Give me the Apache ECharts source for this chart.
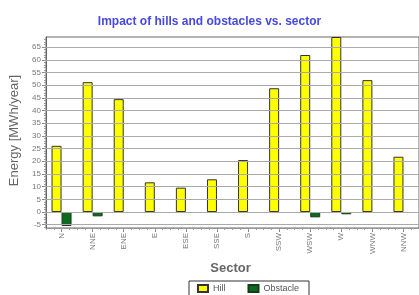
<!DOCTYPE html>
<html>
<head>
<meta charset="utf-8">
<script src="https://cdn.jsdelivr.net/npm/echarts@6/dist/echarts.min.js"></script>
<style>
  html, body { margin: 0; padding: 0; background: #fff; }
  #chart { width: 419px; height: 295px; }
</style>
</head>
<body>
<div id="chart"></div>
<script>
// Sectors and energy impact values
const sectors = ["N", "NNE", "ENE", "E", "ESE", "SSE", "S", "SSW", "WSW", "W", "WNW", "NNW"];
const hillValues = [26.1, 51.2, 44.5, 11.7, 9.6, 12.9, 20.5, 48.8, 61.9, 69, 52, 21.8];
// null = no visible obstacle bar
const obstacleValues = [-5.5, -1.7, null, null, null, null, null, null, -2.1, -0.9, null, null];
const yLabelValues = [-5, 0, 5, 10, 15, 20, 25, 30, 35, 40, 45, 50, 55, 60, 65];

const yMin = -6.3;
const yMax = 69;

// small ticks every unit on the energy axis
const yMinorTicks = [];
for (let v = -6; v <= 68; v++) {
    yMinorTicks.push(v);
}

const chartDom = document.getElementById('chart');
const myChart = echarts.init(chartDom, null, { renderer: 'canvas' });

const option = {
    animation: false,
    backgroundColor: '#fff',
    title: {
        text: 'Impact of hills and obstacles vs. sector',
        left: 'center',
        top: 11,
        textStyle: {
            color: '#4848e0',
            fontSize: 12,
            fontWeight: 'bold',
            fontFamily: 'Liberation Sans'
        }
    },
    legend: {
        bottom: -6,
        left: 189,
        itemWidth: 10,
        itemHeight: 7,
        itemGap: 22,
        padding: [3, 10, 8, 8],
        borderColor: '#333',
        borderWidth: 1,
        icon: 'rect',
        textStyle: { color: '#555', fontSize: 9, fontFamily: 'Liberation Sans' },
        data: ['Hill', 'Obstacle']
    },
    grid: {
        left: 46,
        right: -6,
        top: 37,
        bottom: 67,
        show: true,
        borderColor: '#666',
        borderWidth: 1
    },
    xAxis: [
        {
            type: 'category',
            data: sectors,
            name: 'Sector',
            nameLocation: 'middle',
            nameGap: 32,
            nameTextStyle: { color: '#666', fontSize: 13, fontWeight: 'bold', fontFamily: 'Liberation Sans', padding: [0, 0, 0, -4] },
            axisLine: { onZero: false, lineStyle: { color: '#999' } },
            axisTick: { show: true, alignWithLabel: true, length: 4, lineStyle: { color: '#888' } },
            axisLabel: {
                rotate: 90,
                interval: 0,
                color: '#777',
                fontSize: 8,
                margin: 5,
                fontFamily: 'Liberation Sans'
            },
            splitLine: { show: false }
        },
        {
            type: 'value',
            position: 'bottom',
            min: 0,
            max: sectors.length,
            interval: 1,
            axisLine: { show: false, onZero: false },
            axisLabel: { show: false },
            axisTick: { show: true, length: 2, lineStyle: { color: '#999' } },
            minorTick: { show: true, splitNumber: 4, length: 2, lineStyle: { color: '#999' } },
            splitLine: { show: false }
        }
    ],
    yAxis: [
        {
            type: 'value',
            min: yMin,
            max: yMax,
            name: 'Energy [MWh/year]',
            nameLocation: 'middle',
            nameGap: 19,
            nameTextStyle: { color: '#666', fontSize: 13, fontFamily: 'Liberation Sans', padding: [0, 0, 0, 4] },
            axisLine: { show: true, onZero: false, lineStyle: { color: '#666' } },
            axisTick: { show: true, length: 4, customValues: yLabelValues, lineStyle: { color: '#888' } },
            axisLabel: {
                customValues: yLabelValues,
                color: '#777',
                fontSize: 8,
                margin: 5,
                fontFamily: 'Liberation Sans'
            },
            splitLine: { show: false }
        },
        {
            type: 'value',
            min: yMin,
            max: yMax,
            position: 'left',
            axisLine: { show: false, onZero: false },
            axisLabel: { show: false },
            axisTick: { show: true, length: 2, customValues: yMinorTicks, lineStyle: { color: '#999' } },
            splitLine: { show: false }
        }
    ],
    series: [
        {
            name: 'Hill',
            type: 'bar',
            data: hillValues,
            barWidth: 10,
            barGap: '0%',
            itemStyle: { color: '#ffff00', borderColor: '#333', borderWidth: 1 },
            markLine: {
                silent: true,
                symbol: 'none',
                label: { show: false },
                lineStyle: { color: '#aaa', type: 'solid', width: 1 },
                data: yLabelValues.map(v => ({ yAxis: v }))
            },
            z: 3
        },
        {
            name: 'Obstacle',
            type: 'bar',
            data: obstacleValues,
            barWidth: 10,
            barGap: '0%',
            itemStyle: { color: '#0b6b1f', borderColor: '#1a3a1a', borderWidth: 1 },
            z: 3
        }
    ]
};

myChart.setOption(option);

window.addEventListener('resize', function () {
    myChart.resize();
});
</script>
</body>
</html>
